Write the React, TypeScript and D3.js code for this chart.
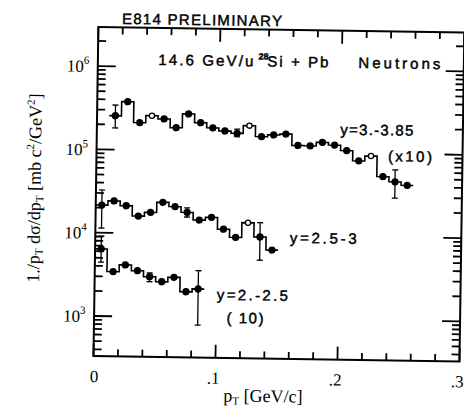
import React from "react";
import * as d3 from "d3";

// ---- data ----
const topPt = [0.015, 0.025, 0.035, 0.045, 0.055, 0.065, 0.075, 0.085, 0.095, 0.105, 0.115, 0.125, 0.135, 0.145, 0.155, 0.165, 0.175, 0.185, 0.195, 0.205, 0.215, 0.225, 0.235, 0.245, 0.255];
const topVal = [2.55e5, 3.78e5, 2.13e5, 2.59e5, 2.38e5, 1.88e5, 2.76e5, 2.18e5, 1.9e5, 1.75e5, 1.65e5, 2.05e5, 1.52e5, 1.6e5, 1.65e5, 1.21e5, 1.2e5, 1.33e5, 1.24e5, 1.07e5, 8.1e4, 9.3e4, 5.3e4, 4.6e4, 4.2e4];
const topErrIdx = [0, 10, 23];
const topErrLo = [1.82e5, 1.5e5, 2.94e4];
const topErrHi = [3.43e5, 1.85e5, 6.4e4];

const midPt = [0.005, 0.015, 0.025, 0.035, 0.045, 0.055, 0.065, 0.075, 0.085, 0.095, 0.105, 0.115, 0.125, 0.135, 0.145];
const midVal = [2.15e4, 2.42e4, 2.13e4, 1.61e4, 1.79e4, 2.38e4, 2.12e4, 1.82e4, 1.48e4, 1.6e4, 1.16e4, 9.3e3, 1.4e4, 9.5e3, 6.65e3];
const midErrIdx = [0, 7, 13];
const midErrLo = [1.14e4, 1.6e4, 5.0e3];
const midErrHi = [3.26e4, 2.06e4, 1.41e4];

const botPt = [0.005, 0.015, 0.025, 0.035, 0.045, 0.055, 0.065, 0.075, 0.085];
const botVal = [6.4e3, 3.43e3, 4.15e3, 3.56e3, 3.03e3, 2.65e3, 3.01e3, 2.03e3, 2.2e3];
const botErrIdx = [0, 4, 8];
const botErrLo = [4.45e3, 2.64e3, 810];
const botErrHi = [9.1e3, 3.36e3, 3.65e3];

const binWidth = 0.01;
const xMajorTicks = [0, 0.1, 0.2, 0.3];
const xMajorLabels = ["0", ".1", ".2", ".3"];
const xMinorTicks = [0.02, 0.04, 0.06, 0.08, 0.12, 0.14, 0.16, 0.18, 0.22, 0.24, 0.26, 0.28];
const yDecades = [3, 4, 5, 6];

// ---- style (not data) ----
const openTop = [3, 11, 21];
const openMid = [12];

const X0 = 93.5, X1 = 459.5, Y0 = 356, Y1 = 27;
const x = d3.scaleLinear().domain([0, 0.3]).range([X0, X1]);
const y = d3.scaleLog().domain([Math.pow(10, 2.52), Math.pow(10, 6.468)]).range([Y0, Y1]);

const SANS = "'Liberation Sans', Arial, sans-serif";
const SERIF = "'Liberation Serif', 'DejaVu Serif', serif";

function stepPath(pts: number[], vals: number[]) {
  const p: [number, number][] = [];
  pts.forEach((c, i) => {
    p.push([x(c - binWidth / 2), y(vals[i])]);
    p.push([x(c + binWidth / 2), y(vals[i])]);
  });
  return d3.line()(p) || "";
}

function Series({ pts, vals, errIdx, errLo, errHi, open }: any) {
  let eb = "";
  errIdx.forEach((ei: number, k: number) => {
    const cx = x(pts[ei]), lo = y(errLo[k]), hi = y(errHi[k]);
    eb += `M${cx},${lo}V${hi}M${cx - 3},${lo}H${cx + 3}M${cx - 3},${hi}H${cx + 3}`;
  });
  return (
    <g>
      <path d={stepPath(pts, vals)} fill="none" stroke="#000" strokeWidth={1.6} />
      <path d={eb} fill="none" stroke="#000" strokeWidth={1.3} />
      {pts.map((c: number, i: number) => (
        <circle key={i} cx={x(c)} cy={y(vals[i])} r={open.includes(i) ? 2.6 : 3}
          fill={open.includes(i) ? "#fff" : "#000"} stroke="#000" strokeWidth={1.3} />
      ))}
    </g>
  );
}

const ink = { stroke: "#000", strokeWidth: 0.45 };

export default function App() {
  const minorY: number[] = [];
  for (let d = 2; d <= 6; d++) {
    for (let m = 2; m <= 9; m++) {
      const v = m * Math.pow(10, d);
      if (v > y.domain()[0] && v < y.domain()[1]) minorY.push(v);
    }
  }
  let ticks = "";
  xMajorTicks.forEach((t) => {
    ticks += `M${x(t)},${Y0}V${Y0 - 13}M${x(t)},${Y1}V${Y1 + 13}`;
  });
  xMinorTicks.forEach((t) => {
    ticks += `M${x(t)},${Y0}V${Y0 - 7}M${x(t)},${Y1}V${Y1 + 7}`;
  });
  yDecades.forEach((d) => {
    const yy = y(Math.pow(10, d));
    ticks += `M${X0},${yy}H${X0 + 18}M${X1},${yy}H${X1 - 18}`;
  });
  minorY.forEach((v) => {
    const yy = y(v);
    ticks += `M${X0},${yy}H${X0 + 8}M${X1},${yy}H${X1 - 8}`;
  });
  return (
    <svg width={464} height={407} style={{ position: "absolute", left: 0, top: 0, background: "#fff" }}>
      <rect x={0} y={0} width={464} height={407} fill="#fff" />
      <g transform={`rotate(0.85, ${X0}, ${Y0})`}>
        {/* frame */}
        <rect x={X0} y={Y1} width={X1 - X0} height={Y0 - Y1} fill="none" stroke="#000" strokeWidth={2} />
        {/* x tick labels */}
        {xMajorTicks.map((t, i) => (
          <text key={"xl" + i} x={x(t) + (i === 0 ? 1 : -2)} y={382} textAnchor="middle"
            fontFamily={SERIF} fontSize={17} fill="#000">{xMajorLabels[i]}</text>
        ))}
        {/* y tick labels */}
        {yDecades.map((d) => (
          <text key={"yl" + d} x={85} y={y(Math.pow(10, d)) + 6} textAnchor="end" fontFamily={SERIF} fontSize={17} fill="#000">
            10<tspan fontSize={11} dy={-8}>{d}</tspan>
          </text>
        ))}
        {/* axis titles */}
        <text x={224} y={399.5} fontFamily={SERIF} fontSize={18} fill="#000">
          p<tspan fontSize={11} dy={3}>T</tspan><tspan dy={-3}> [GeV/c]</tspan>
        </text>
        <text transform="translate(38,189) rotate(-90)" textAnchor="middle" fontFamily={SERIF} fontSize={18} fill="#000">
          1./p<tspan fontSize={11} dy={3}>T</tspan><tspan dy={-3}> dσ/dp</tspan><tspan fontSize={11} dy={3}>T</tspan>
          <tspan dy={-3}> [mb c</tspan><tspan fontSize={11} dy={-7}>2</tspan><tspan dy={7}>/GeV</tspan>
          <tspan fontSize={11} dy={-7}>2</tspan><tspan dy={7}>]</tspan>
        </text>
        {/* annotations */}
        <g fontFamily={SANS} fontSize={15} fill="#000" {...ink}>
          <text x={117} y={23.5} textLength={160} lengthAdjust="spacing">E814 PRELIMINARY</text>
          <text x={154} y={64} textLength={95} lengthAdjust="spacing">14.6 GeV/u</text>
          <text x={254} y={57} fontSize={9} fontWeight="bold">28</text>
          <text x={263} y={64} textLength={61} lengthAdjust="spacing" style={{ whiteSpace: "pre" }}>Si + Pb</text>
          <text x={354} y={64} textLength={82} lengthAdjust="spacing">Neutrons</text>
          <text x={337} y={131} textLength={73} lengthAdjust="spacing">y=3.-3.85</text>
          <text x={385} y={157} textLength={44} lengthAdjust="spacing">(x10)</text>
          <text x={288} y={240} textLength={67} lengthAdjust="spacing">y=2.5-3</text>
          <text x={216} y={298} textLength={71} lengthAdjust="spacing">y=2.-2.5</text>
          <text x={226} y={321} textLength={37} lengthAdjust="spacing" style={{ whiteSpace: "pre" }}>( 10)</text>
        </g>
        {/* data */}
        <Series pts={topPt} vals={topVal} errIdx={topErrIdx} errLo={topErrLo} errHi={topErrHi} open={openTop} />
        <Series pts={midPt} vals={midVal} errIdx={midErrIdx} errLo={midErrLo} errHi={midErrHi} open={openMid} />
        <Series pts={botPt} vals={botVal} errIdx={botErrIdx} errLo={botErrLo} errHi={botErrHi} open={[]} />
        {/* ticks (drawn last) */}
        <path d={ticks} fill="none" stroke="#000" strokeWidth={1.8} />
      </g>
    </svg>
  );
}
